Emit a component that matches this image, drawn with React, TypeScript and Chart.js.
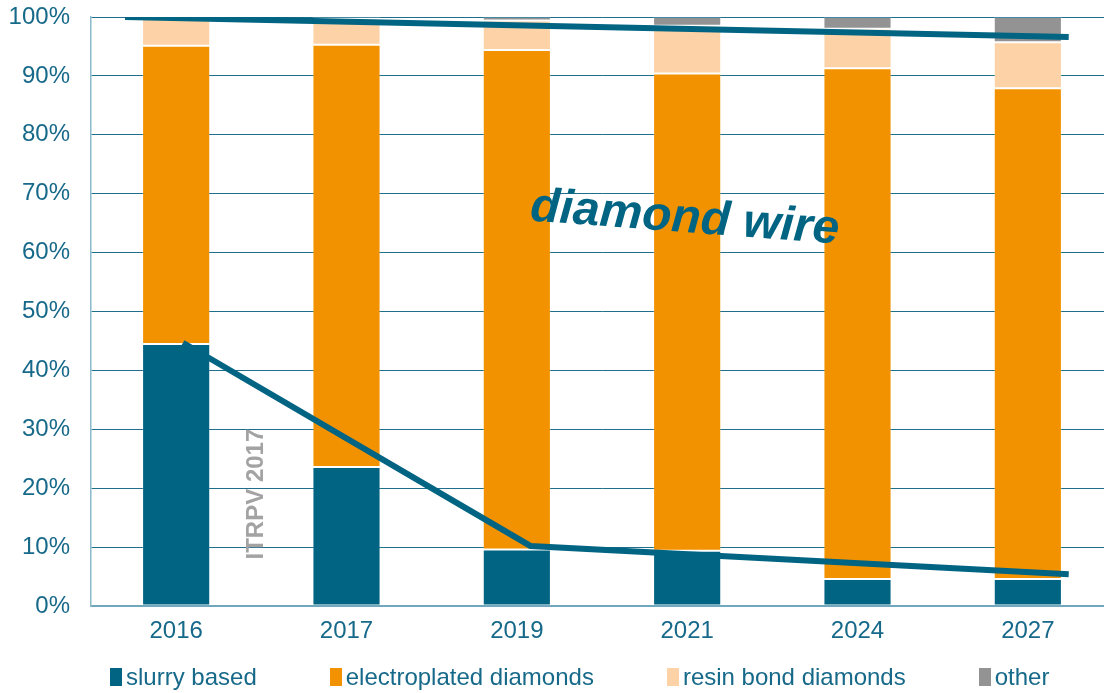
import React, { useEffect, useRef } from "react";
import { Chart, registerables } from "chart.js";

Chart.register(...registerables);

// ---- data ----
const categories = ["2016", "2017", "2019", "2021", "2024", "2027"];
const slurryBased = [44.5, 23.6, 9.6, 9.4, 4.6, 4.6];
const electroplatedDiamonds = [50.6, 71.7, 84.8, 81.0, 86.7, 83.3];
const resinBondDiamonds = [4.9, 4.4, 5.0, 8.1, 6.7, 7.8];
const otherWire = [0, 0.3, 0.6, 1.5, 2.0, 4.3];
const seriesNames = ["slurry based", "electroplated diamonds", "resin bond diamonds", "other"];
const seriesColors = ["#006482", "#F39200", "#FDD2A6", "#939393"];
const yTickValues = [0, 10, 20, 30, 40, 50, 60, 70, 80, 90, 100];
// trend lines (x = category index, y = percent)
const diamondWireTrend = [
  { x: -0.3, y: 100 },
  { x: 5.24, y: 96.6 },
];
const slurryTrend = [
  { x: 0.04, y: 44.7 },
  { x: 2.08, y: 10.2 },
  { x: 5.24, y: 5.4 },
];
const annotationTexts = ["diamond wire", "ITRPV 2017"];

const TEAL = "#006482";
const LABEL = "#17698a";
const FONT = '"Liberation Sans", Arial, Helvetica, sans-serif';

const annotationPlugin = {
  id: "annots",
  afterDatasetsDraw(chart: any) {
    const ctx = chart.ctx;
    const xs = chart.scales.x2;
    const ys = chart.scales.y2;
    ctx.save();
    ctx.translate(xs.getPixelForValue(2.98), ys.getPixelForValue(63.5));
    ctx.rotate((4.3 * Math.PI) / 180);
    ctx.font = `italic bold 48px ${FONT}`;
    ctx.fillStyle = TEAL;
    ctx.textAlign = "center";
    ctx.textBaseline = "alphabetic";
    ctx.fillText(annotationTexts[0], 0, 0);
    ctx.restore();

    ctx.save();
    ctx.translate(xs.getPixelForValue(0.47), ys.getPixelForValue(19.0));
    ctx.rotate(-Math.PI / 2);
    ctx.font = `bold 24px ${FONT}`;
    ctx.fillStyle = "#a3a3a3";
    ctx.textAlign = "center";
    ctx.textBaseline = "middle";
    ctx.fillText(annotationTexts[1], 0, 0);
    ctx.restore();
  },
};

export default function App() {
  const ref = useRef<HTMLCanvasElement | null>(null);

  useEffect(() => {
    if (!ref.current) return;
    const barValues = [slurryBased, electroplatedDiamonds, resinBondDiamonds, otherWire];
    const barSets = barValues.map((vals, i) => ({
      type: "bar" as const,
      label: seriesNames[i],
      data: vals,
      backgroundColor: seriesColors[i],
      borderColor: "rgba(255,255,255,0.18)",
      borderWidth: 1,
      borderSkipped: false,
      xAxisID: "x",
      yAxisID: "y",
      stack: "s",
      grouped: false,
      order: 2,
      barPercentage: 0.4,
      categoryPercentage: 1,
    }));
    const lineSets = [diamondWireTrend, slurryTrend].map((pts, i) => ({
      type: "line" as const,
      label: "trend" + i,
      data: pts,
      xAxisID: "x2",
      yAxisID: "y2",
      borderColor: TEAL,
      borderWidth: 6,
      pointRadius: 0,
      tension: 0,
      fill: false,
      order: 0,
      borderCapStyle: "butt",
    }));

    const chart = new Chart(ref.current, {
      type: "bar",
      data: { labels: categories, datasets: [...barSets, ...lineSets] as any },
      plugins: [annotationPlugin],
      options: {
        animation: false,
        responsive: false,
        layout: { padding: { top: 17, right: 7, bottom: 47, left: 0 } },
        plugins: { legend: { display: false }, tooltip: { enabled: false } },
        scales: {
          x: {
            type: "category",
            stacked: true,
            offset: true,
            grid: { display: false, drawTicks: false },
            border: { display: true, color: "#6fa8bc", width: 2 },
            ticks: { color: LABEL, font: { size: 24, family: FONT }, padding: 11, maxRotation: 0 },
            afterFit: (s: any) => {
              s.height = 40;
            },
          },
          x2: { type: "linear", display: false, offset: false, min: -0.5, max: 5.5, grid: { offset: false } },
          y: {
            stacked: true,
            min: 0,
            max: 100,
            afterBuildTicks: (s: any) => {
              s.ticks = yTickValues.map((v) => ({ value: v }));
            },
            grid: {
              drawTicks: true,
              tickLength: 21,
              tickColor: "rgba(0,0,0,0)",
              color: (c: any) => (c.tick && c.tick.value === 0 ? "rgba(0,0,0,0)" : "#1e6e8c"),
              lineWidth: 1,
            },
            border: { display: true, color: "#8bb9c9", width: 1.5 },
            ticks: {
              color: LABEL,
              font: { size: 24, family: FONT },
              padding: 0,
              callback: (v: any) => v + "%",
            },
            afterFit: (s: any) => {
              s.width = 91;
            },
          },
          y2: { type: "linear", display: false, min: 0, max: 100, stacked: false },
        },
      } as any,
    });
    return () => chart.destroy();
  }, []);

  return (
    <div
      style={{
        position: "fixed",
        left: 0,
        top: 0,
        width: 1104,
        height: 693,
        overflow: "hidden",
        background: "#fff",
      }}
    >
      <canvas ref={ref} width={1120} height={693} style={{ display: "block", width: 1120, height: 693 }} />
      <div
        style={{
          position: "absolute",
          left: 110,
          top: 664,
          height: 26,
          display: "flex",
          alignItems: "center",
          gap: 73,
          fontFamily: FONT,
          fontSize: 24,
          color: LABEL,
          whiteSpace: "nowrap",
        }}
      >
        {seriesNames.map((n, i) => (
          <div key={n} style={{ display: "flex", alignItems: "center" }}>
            <span style={{ display: "inline-block", width: 12, height: 18, background: seriesColors[i], marginRight: 4 }} />
            <span style={{ lineHeight: "26px" }}>{n}</span>
          </div>
        ))}
      </div>
    </div>
  );
}
